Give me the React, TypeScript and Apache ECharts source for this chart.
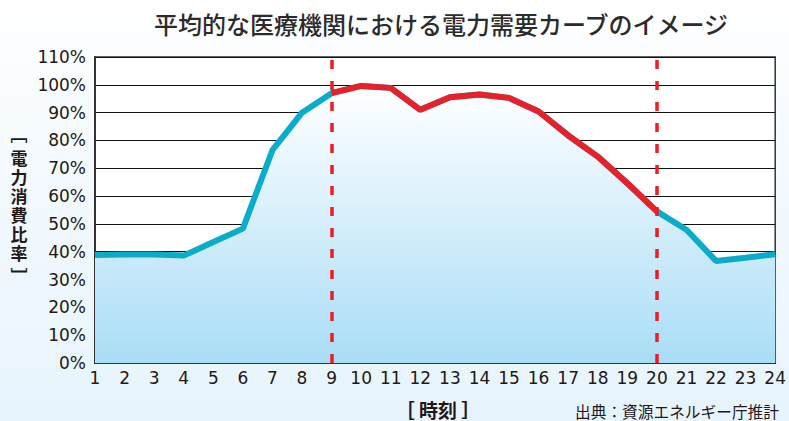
import React, { useEffect, useRef } from "react";
import * as echarts from "echarts";

const hours = ["1","2","3","4","5","6","7","8","9","10","11","12","13","14","15","16","17","18","19","20","21","22","23","24"];
const demand = [38.8, 39, 39, 38.6, 43.5, 48.3, 76.5, 90, 97, 99.6, 98.9, 91, 95.5, 96.5, 95.3, 90.4, 81.8, 74.2, 64.6, 54.5, 47.9, 36.7, 37.8, 39.1];
const peakStart = "9";
const peakEnd = "20";
const titleText = "平均的な医療機関における電力需要カーブのイメージ";
const yNameChars = ["﹇", "電", "力", "消", "費", "比", "率", "﹈"];
const xName = "［ 時刻 ］";
const sourceText = "出典：資源エネルギー庁推計";

export default function App() {
  const ref = useRef<HTMLDivElement>(null);
  useEffect(() => {
    if (!ref.current) return;
    const chart = echarts.init(ref.current, null, { renderer: "svg" });
    const si = hours.indexOf(peakStart);
    const ei = hours.indexOf(peakEnd);
    const peak = demand.map((v, i) => (i >= si && i <= ei ? v : null));
    const yNameGraphics = yNameChars.map((c, i) => ({
      type: "text",
      x: 19,
      y: 138 + i * 19 + (i === 0 ? -5 : i === yNameChars.length - 1 ? 4 : 0),
      style: {
        text: c,
        fontFamily: "Noto Sans CJK JP",
        fontSize: 17,
        lineHeight: 18,
        fontWeight: "bold",
        fill: "#231815",
        align: "center",
        verticalAlign: "middle",
      },
    }));
    chart.setOption({
      animation: false,
      backgroundColor: "transparent",
      title: {
        text: titleText,
        left: 436,
        top: 6,
        textAlign: "center",
        textStyle: { fontFamily: "Noto Sans CJK JP", fontSize: 24, fontWeight: 500, color: "#2b2b2b" },
      },
      grid: {
        left: 95, right: 11, top: 57, bottom: 58,
        show: true, backgroundColor: "#ffffff", borderColor: "#333", borderWidth: 1.5,
      },
      xAxis: {
        type: "category",
        data: hours,
        boundaryGap: false,
        axisLine: { lineStyle: { color: "#333", width: 2 } },
        axisTick: { show: false },
        axisLabel: { color: "#231815", fontSize: 17, fontFamily: "DejaVu Sans", margin: 6 },
        splitLine: { show: false },
      },
      yAxis: {
        type: "value",
        min: 0, max: 110, interval: 10,
        axisLine: { show: true, lineStyle: { color: "#333", width: 2 } },
        axisTick: { show: false },
        axisLabel: { color: "#231815", fontSize: 17, fontFamily: "DejaVu Sans", formatter: "{value}%", margin: 9 },
        splitLine: { lineStyle: { color: "#111", width: 1 } },
      },
      series: [
        {
          type: "line",
          data: demand,
          symbol: "none",
          z: 2,
          lineStyle: { color: "#0aaccb", width: 6 },
          areaStyle: {
            opacity: 1,
            color: new echarts.graphic.LinearGradient(0, 0, 0, 1, [
              { offset: 0, color: "#ffffff" },
              { offset: 1, color: "#a9ddf6" },
            ]),
          },
        },
        {
          type: "line",
          data: peak,
          symbol: "none",
          z: 3,
          connectNulls: false,
          lineStyle: { color: "#e8202a", width: 6 },
          markLine: {
            symbol: "none",
            silent: true,
            label: { show: false },
            lineStyle: { color: "#ee1c25", width: 3.5, type: [9, 12], opacity: 1 },
            emphasis: { disabled: true },
            data: [{ xAxis: peakStart }, { xAxis: peakEnd }],
          },
        },
      ],
      graphic: [
        ...yNameGraphics,
        {
          type: "text",
          x: 438,
          y: 409,
          style: {
            text: xName,
            fontFamily: "Noto Sans CJK JP",
            fontSize: 19,
            lineHeight: 20,
            fontWeight: "bold",
            fill: "#231815",
            align: "center",
            verticalAlign: "middle",
          },
        },
        {
          type: "text",
          x: 779,
          y: 411,
          style: {
            text: sourceText,
            fontFamily: "Noto Sans CJK JP",
            fontSize: 15.7,
            lineHeight: 17,
            fill: "#231815",
            align: "right",
            verticalAlign: "middle",
          },
        },
      ],
    });
    return () => chart.dispose();
  }, []);
  return (
    <div
      ref={ref}
      style={{
        position: "fixed",
        left: 0,
        top: 0,
        width: 789,
        height: 421,
        background: "linear-gradient(180deg, #ffffff 0%, #f4fafe 40%, #e7f4fd 100%)",
      }}
    />
  );
}
